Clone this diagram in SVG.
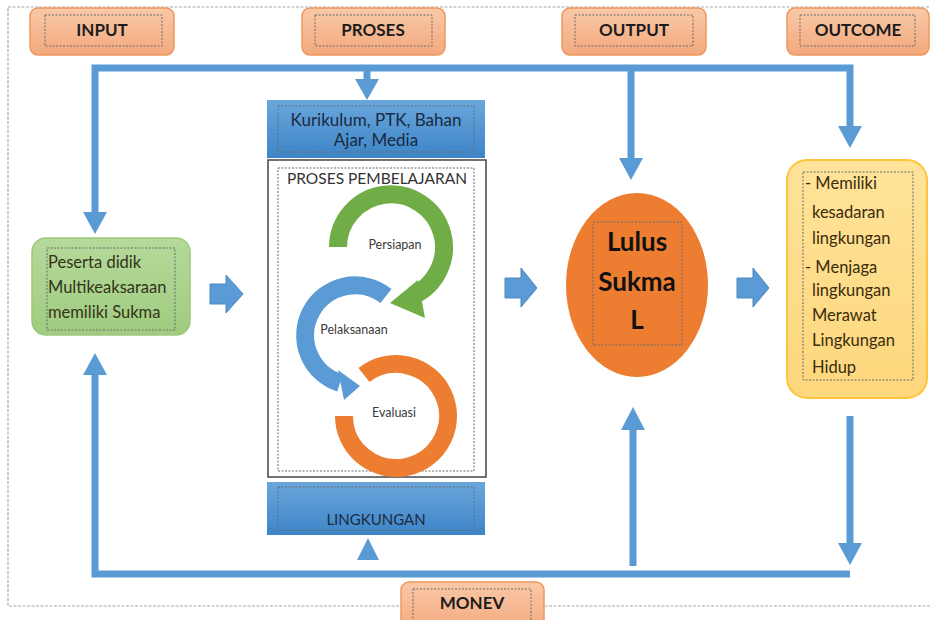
<svg xmlns="http://www.w3.org/2000/svg" width="930" height="620" viewBox="0 0 930 620">
<defs>
<linearGradient id="gOr" x1="0" y1="0" x2="0" y2="1"><stop offset="0" stop-color="#f9c9a8"/><stop offset="1" stop-color="#f3a87c"/></linearGradient>
<linearGradient id="gGr" x1="0" y1="0" x2="0" y2="1"><stop offset="0" stop-color="#b5d99b"/><stop offset="1" stop-color="#9fcc7f"/></linearGradient>
<linearGradient id="gBl" x1="0" y1="0" x2="0" y2="1"><stop offset="0" stop-color="#6aa6dc"/><stop offset="1" stop-color="#3d85c8"/></linearGradient>
<linearGradient id="gYe" x1="0" y1="0" x2="0" y2="1"><stop offset="0" stop-color="#ffe39a"/><stop offset="1" stop-color="#fdd77c"/></linearGradient>
</defs>
<style>
.hdr{fill:url(#gOr);stroke:#f0965e;stroke-width:1.5}
.dash{fill:none;stroke:#6b6b6b;stroke-width:1;stroke-dasharray:2 1.5}
.ht{font-family:Lato,"Liberation Sans",sans-serif;font-weight:bold;font-size:17px;fill:#1c1c1c;text-anchor:middle}
.to{font-family:Lato,"Liberation Sans",sans-serif;font-size:16.5px;fill:#3a2c0c}
.tg{font-family:Lato,"Liberation Sans",sans-serif;font-size:16.5px;fill:#33331a}
.tk{font-family:Lato,"Liberation Sans",sans-serif;font-size:17px;fill:#1a2a40;text-anchor:middle}
.line{fill:none;stroke:#5b9bd5;stroke-width:7}
.ah{fill:#5b9bd5}
.blk{fill:#5b9bd5;stroke:#4a88c2;stroke-width:1}
.sm{font-family:Lato,"Liberation Sans",sans-serif;font-size:12.5px;fill:#3a3a3a;text-anchor:middle}
.lb{font-family:Lato,"Liberation Sans",sans-serif;font-weight:bold;font-size:26px;fill:#111;text-anchor:middle}
</style>
<rect width="930" height="620" fill="#ffffff"/>
<rect x="8" y="7" width="940" height="599" fill="none" stroke="#a8a8a8" stroke-width="1.2" stroke-dasharray="3 1.5"/>

<g id="connectors">
<polyline class="line" points="95,214 95,68 850,68 850,128"/>
<line class="line" x1="367" y1="68" x2="367" y2="82"/>
<line class="line" x1="631" y1="68" x2="631" y2="160"/>
<polygon class="ah" points="83,212 107,212 95,234"/>
<polygon class="ah" points="355,79 379,79 367,100"/>
<polygon class="ah" points="619,158 643,158 631,180"/>
<polygon class="ah" points="838,126 862,126 850,148"/>
<polyline class="line" points="95,372 95,574 850,574"/>
<polygon class="ah" points="83,375 107,375 95,353"/>
<line class="line" x1="633" y1="566" x2="633" y2="428"/>
<polygon class="ah" points="621,430 645,430 633,407"/>
<line class="line" x1="850" y1="416" x2="850" y2="545"/>
<polygon class="ah" points="838,543 862,543 850,565"/>
<polygon class="ah" points="357,560 379,560 368,538"/>
<polygon class="blk" points="210,284 226,284 226,275 243,294 226,313 226,304 210,304"/>
<polygon class="blk" points="505,278 521,278 521,268 537,288 521,307 521,298 505,298"/>
<polygon class="blk" points="737,278 753,278 753,268 769,288 753,307 753,298 737,298"/>
</g>

<g id="input"><rect class="hdr" x="30" y="8" width="144" height="47" rx="8"/><rect class="dash" x="45" y="15" width="117" height="31"/><text class="ht" x="102" y="36">INPUT</text></g>
<g id="proses"><rect class="hdr" x="302" y="8" width="143" height="47" rx="8"/><rect class="dash" x="315" y="15" width="117" height="31"/><text class="ht" x="373" y="36">PROSES</text></g>
<g id="output"><rect class="hdr" x="562" y="8" width="144" height="47" rx="8"/><rect class="dash" x="575" y="15" width="118" height="31"/><text class="ht" x="634" y="36">OUTPUT</text></g>
<g id="outcome"><rect class="hdr" x="787" y="8" width="142" height="47" rx="8"/><rect class="dash" x="800" y="15" width="115" height="31"/><text class="ht" x="858" y="36">OUTCOME</text></g>
<g id="monev"><rect class="hdr" x="401" y="582" width="143" height="50" rx="8"/><rect class="dash" x="413" y="589" width="118" height="35"/><text class="ht" x="472" y="609">MONEV</text></g>

<g id="peserta"><rect x="32" y="238" width="158" height="97" rx="14" fill="url(#gGr)" stroke="#9cc97e" stroke-width="1.5"/><rect class="dash" x="47" y="248" width="128" height="82"/>
<text class="tg" x="48" y="268">Peserta didik</text><text class="tg" x="48" y="293">Multikeaksaraan</text><text class="tg" x="48" y="318">memiliki Sukma</text></g>

<g id="kurikulum"><rect x="267" y="100" width="218" height="58" fill="url(#gBl)"/><rect class="dash" x="278" y="106" width="196" height="46"/>
<text class="tk" x="376" y="126">Kurikulum, PTK, Bahan</text><text class="tk" x="376" y="146">Ajar, Media</text></g>

<g id="pembelajaran"><rect x="268" y="160" width="218" height="317" fill="#ffffff" stroke="#444" stroke-width="1.5"/><rect class="dash" x="278" y="168" width="196" height="303"/>
<text x="377" y="184" style="font-family:Lato,'Liberation Sans',sans-serif;font-size:15.5px;fill:#333;text-anchor:middle">PROSES PEMBELAJARAN</text>
<path d="M 338 247 A 53 53 0 1 1 412 296" fill="none" stroke="#70ad47" stroke-width="18"/>
<polygon points="418,280 425,318 390,303" fill="#70ad47"/>
<path d="M 386 296 A 50 50 0 1 0 340 383" fill="none" stroke="#5b9bd5" stroke-width="18"/>
<polygon points="338,370 344,400 360,386" fill="#5b9bd5"/>
<path d="M 364 375 A 52 52 0 1 1 344 416" fill="none" stroke="#ed7d31" stroke-width="18"/>
<text class="sm" x="395" y="249">Persiapan</text>
<text class="sm" x="354" y="334">Pelaksanaan</text>
<text class="sm" x="394" y="417">Evaluasi</text></g>

<g id="lingkungan"><rect x="267" y="482" width="218" height="53" fill="url(#gBl)"/><rect class="dash" x="278" y="487" width="196" height="43"/>
<text x="376" y="525" style="font-family:Lato,'Liberation Sans',sans-serif;font-size:15px;fill:#1a2a40;text-anchor:middle">LINGKUNGAN</text></g>

<g id="lulus"><ellipse cx="637" cy="285" rx="71" ry="92" fill="#ed7d31"/><rect class="dash" x="593" y="222" width="89" height="123"/>
<text class="lb" x="637" y="251">Lulus</text>
<text class="lb" x="637" y="291">Sukma</text>
<text class="lb" x="637" y="329">L</text></g>

<g id="outcomebox"><rect x="787" y="160" width="140" height="238" rx="20" fill="url(#gYe)" stroke="#ffc53a" stroke-width="2"/><rect class="dash" x="803" y="172" width="110" height="208"/>
<text class="to" x="805" y="189">- Memiliki</text><text class="to" x="812" y="218">kesadaran</text><text class="to" x="812" y="244">lingkungan</text><text class="to" x="805" y="273">- Menjaga</text><text class="to" x="812" y="296">lingkungan</text><text class="to" x="812" y="321">Merawat</text><text class="to" x="812" y="346">Lingkungan</text><text class="to" x="812" y="373">Hidup</text></g>
</svg>
